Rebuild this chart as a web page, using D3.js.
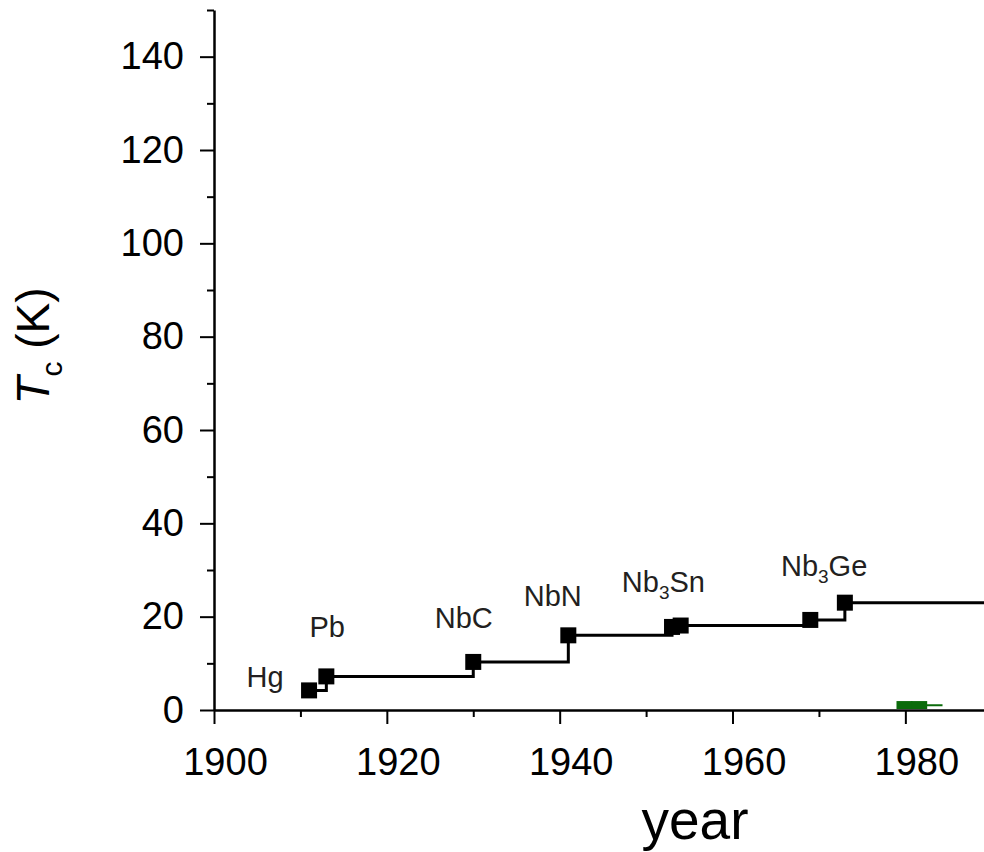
<!DOCTYPE html>
<html>
<head>
<meta charset="utf-8">
<script src="https://cdn.jsdelivr.net/npm/d3@7"></script>
<style>
  body { margin: 0; background: #fff; }
  text { font-family: "Liberation Sans", Arial, sans-serif; }
</style>
</head>
<body>
<svg width="984" height="852"></svg>
<script>
// record Tc of conventional superconductors
var years = [1911, 1913, 1930, 1941, 1953, 1954, 1969, 1973];
var tcValues = [4.2, 7.2, 10.3, 16, 17.8, 18.1, 19.3, 23];

// compound labels (name, base, subscript, suffix)
var labelBase = ["Hg", "Pb", "NbC", "NbN", "Nb", "Nb"];
var labelSub = ["", "", "", "", "3", "3"];
var labelRest = ["", "", "", "", "Sn", "Ge"];
var labelYears = [1905.9, 1913.1, 1928.9, 1939.2, 1952.0, 1970.6];
var labelTc = [4.9, 15.6, 17.6, 22.3, 25.3, 28.7];

// heavy fermion bit peeking above the axis
var heavyYears = [1979.9, 1981.6];
var heavyTc = [0.2, 0.2];
var heavyLineYears = [1979.5, 1984.3];
var heavyLineTc = [1.0, 1.0];

var xTicks = [1900, 1920, 1940, 1960, 1980];
var xMinor = [1910, 1930, 1950, 1970];
var yTicks = [0, 20, 40, 60, 80, 100, 120, 140];
var yMinor = [10, 30, 50, 70, 90, 110, 130, 150];

var svg = d3.select("svg");

var x = d3.scaleLinear().domain([1900, 1989.1]).range([214, 984]);
var y = d3.scaleLinear().domain([0, 150]).range([710, 10]);

svg.append("clipPath").attr("id", "plot")
  .append("rect")
  .attr("x", x.range()[0]).attr("y", y.range()[1])
  .attr("width", x.range()[1] - x.range()[0])
  .attr("height", y.range()[0] - y.range()[1] - 1);

// minor ticks first
svg.append("g")
  .attr("transform", "translate(0," + y(0) + ")")
  .call(d3.axisBottom(x).tickValues(xMinor).tickSize(7).tickSizeOuter(0).tickFormat(""))
  .call(g => g.select(".domain").remove())
  .selectAll("line").attr("stroke-width", 2);

svg.append("g")
  .attr("transform", "translate(" + x(1900) + ",0)")
  .call(d3.axisLeft(y).tickValues(yMinor).tickSize(7).tickSizeOuter(0).tickFormat(""))
  .call(g => g.select(".domain").remove())
  .selectAll("line").attr("stroke-width", 2);

// major axes
var xAxis = svg.append("g")
  .attr("transform", "translate(0," + y(0) + ")")
  .call(d3.axisBottom(x).tickValues(xTicks).tickSize(14).tickSizeOuter(0).tickPadding(24).tickFormat(d3.format("d")));
xAxis.select(".domain").attr("stroke-width", 2.5);
xAxis.selectAll("line").attr("stroke-width", 2);
xAxis.selectAll("text").attr("font-size", 38).attr("fill", "#000").attr("dx", 11)
  .attr("font-family", "Liberation Sans, Arial, sans-serif");

var yAxis = svg.append("g")
  .attr("transform", "translate(" + x(1900) + ",0)")
  .call(d3.axisLeft(y).tickValues(yTicks).tickSize(14).tickSizeOuter(0).tickPadding(16));
yAxis.select(".domain").attr("stroke-width", 2.5);
yAxis.selectAll("line").attr("stroke-width", 2);
yAxis.selectAll("text").attr("font-size", 38).attr("fill", "#000")
  .attr("font-family", "Liberation Sans, Arial, sans-serif");

var plot = svg.append("g").attr("clip-path", "url(#plot)");

// heavy fermion (green)
var heavyLine = d3.line().x(d => x(d[0])).y(d => y(d[1]));
plot.append("path")
  .datum(heavyLineYears.map((d, i) => [d, heavyLineTc[i]]))
  .attr("d", heavyLine)
  .attr("fill", "none").attr("stroke", "#0b6b0b").attr("stroke-width", 2);
plot.selectAll(".hf")
  .data(heavyYears.map((d, i) => [d, heavyTc[i]]))
  .enter().append("rect")
  .attr("class", "hf")
  .attr("x", d => x(d[0]) - 8).attr("y", d => y(d[1]) - 8)
  .attr("width", 16).attr("height", 16)
  .attr("fill", "#0b6b0b");

// step line of records, runs off the right edge
var pts = years.map((d, i) => [d, tcValues[i]]);
var linePts = pts.concat([[x.domain()[1], tcValues[tcValues.length - 1]]]);
var step = d3.line().x(d => x(d[0])).y(d => y(d[1])).curve(d3.curveStepAfter);
plot.append("path")
  .datum(linePts)
  .attr("d", step)
  .attr("fill", "none").attr("stroke", "#000").attr("stroke-width", 3);

plot.selectAll(".pt")
  .data(pts)
  .enter().append("rect")
  .attr("class", "pt")
  .attr("x", d => x(d[0]) - 8).attr("y", d => y(d[1]) - 8)
  .attr("width", 16).attr("height", 16)
  .attr("fill", "#000");

// compound labels
var labels = svg.selectAll(".lbl")
  .data(labelBase)
  .enter().append("text")
  .attr("class", "lbl")
  .attr("x", (d, i) => x(labelYears[i]))
  .attr("y", (d, i) => y(labelTc[i]))
  .attr("text-anchor", "middle")
  .attr("font-size", 29)
  .attr("fill", "#231f20");
labels.append("tspan").text(d => d);
labels.append("tspan")
  .attr("font-size", 19).attr("dy", 7)
  .text((d, i) => labelSub[i]);
labels.append("tspan")
  .attr("dy", (d, i) => labelSub[i] ? -7 : 0)
  .text((d, i) => labelRest[i]);

// axis titles
svg.append("text")
  .attr("x", 695).attr("y", 839)
  .attr("text-anchor", "middle")
  .attr("font-size", 55)
  .text("year");

var yt = svg.append("text")
  .attr("transform", "translate(49,346) rotate(-90)")
  .attr("text-anchor", "middle")
  .attr("font-size", 46);
yt.append("tspan").attr("font-style", "italic").text("T");
yt.append("tspan").attr("font-size", 30).attr("dy", 13).text("c");
yt.append("tspan").attr("dy", -13).text(" (K)");
</script>
</body>
</html>
